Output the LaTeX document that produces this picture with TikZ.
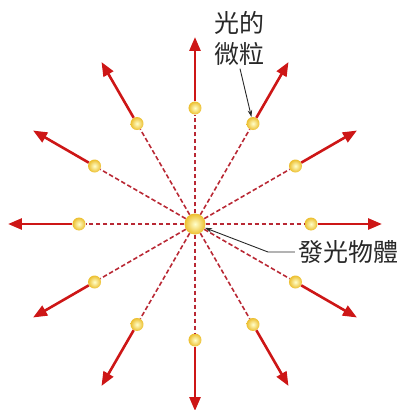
\documentclass[tikz,border=0pt]{standalone}
\usepackage{fontspec}
\newfontfamily\cjk{Noto Sans CJK TC}
\usetikzlibrary{arrows.meta}
\definecolor{raycolor}{RGB}{205,22,22}
\definecolor{trailcolor}{RGB}{185,40,52}
\definecolor{textgray}{RGB}{40,40,40}
\definecolor{ballrim}{RGB}{236,190,45}

\begin{document}
\begin{tikzpicture}[x=1pt, y=1pt,
    particle/.style={circle, inner sep=0pt, minimum size=13pt,
        shading=radial, inner color=yellow!20, outer color=ballrim},
    source/.style={particle, minimum size=21pt},
    trail/.style={trailcolor, line width=1.6pt, dash pattern=on 4.5pt off 2.5pt},
    ray/.style={raycolor, line width=2.6pt, -{Triangle[length=14pt, width=11pt]}},
    pointer/.style={textgray, line width=0.9pt, -{Stealth[length=7pt, width=4.5pt]}},
    tag/.style={font=\cjk\fontsize{25}{31}\selectfont, text=textgray, align=center}]
    \useasboundingbox (-195,-186) rectangle (209,224);

    \node[source] (src) at (0,0) {};

    \foreach \a in {0,30,...,330} {
        \node[particle] (p\a) at (\a:116) {};
        \coordinate (t\a) at (\a:187);
        \draw[trail] (src) -- (p\a);
        \draw[ray] (p\a) -- (t\a);
    }

    \node[tag] (lblp) at (45,186) {光的\\微粒};
    \draw[pointer] (lblp.south) -- (p60);

    \node[tag, anchor=west] (lbls) at (100,-28) {發光物體};
    \coordinate (bend) at (73,-28);
    \draw[pointer] (lbls.west) -- (bend) -- (src);
\end{tikzpicture}
\end{document}
